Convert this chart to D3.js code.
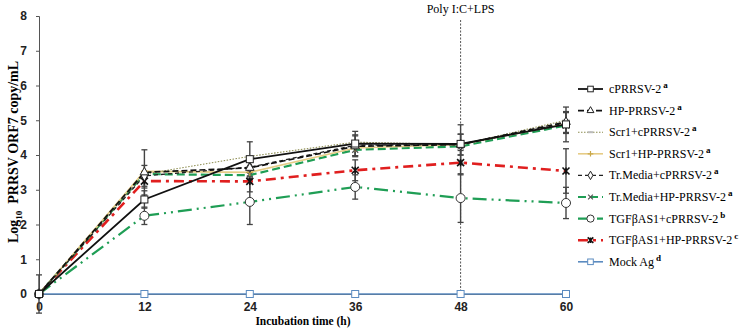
<!DOCTYPE html>
<html>
<head>
<meta charset="utf-8">
<script src="https://cdn.jsdelivr.net/npm/d3@7"></script>
<style>
  body { margin: 0; background: #fff; }
  svg { font-family: "Liberation Serif", "Times New Roman", serif; }
  .axis path, .axis line { stroke: #555; }
  .axis text { font-weight: bold; font-size: 12px; fill: #222; }
</style>
</head>
<body>
<svg id="chart" width="744" height="333"></svg>
<script>
/* PRRSV ORF7 copies over incubation time */
const hours = [0, 12, 24, 36, 48, 60];
const yTicks = [0, 1, 2, 3, 4, 5, 6, 7, 8];
const seriesNames = ["cPRRSV-2", "HP-PRRSV-2", "Scr1+cPRRSV-2", "Scr1+HP-PRRSV-2",
    "Tr.Media+cPRRSV-2", "Tr.Media+HP-PRRSV-2", "TGF\u03B2AS1+cPRRSV-2",
    "TGF\u03B2AS1+HP-PRRSV-2", "Mock Ag"];
const seriesSup = ["a", "a", "a", "a", "a", "a", "b", "c", "d"];

const cPRRSV = [0, 2.72, 3.88, 4.33, 4.32, 4.88];
const hpPRRSV = [0, 3.5, 3.63, 4.25, 4.3, 4.95];
const scr1C = [0, 3.45, 3.96, 4.37, 4.3, 5.0];
const scr1Hp = [0, 3.53, 3.5, 4.2, 4.3, 4.9];
const trMediaC = [0, 3.4, 3.65, 4.28, 4.3, 4.92];
const trMediaHp = [0, 3.45, 3.42, 4.15, 4.25, 4.85];
const tgfC = [0, 2.25, 2.65, 3.08, 2.76, 2.62];
const tgfHp = [0, 3.25, 3.24, 3.56, 3.78, 3.54];
const mockAg = [0, 0, 0, 0, 0, 0];

// standard errors (approx)
const cPRRSVErr = [0.55, 0.25, 0.5, 0.35, 0.55, 0.5];
const hpPRRSVErr = [0, 0.65, 0.3, 0.3, 0.3, 0.3];
const tgfCErr = [0, 0.25, 0.65, 0.35, 0.7, 0.45];
const tgfHpErr = [0, 0.2, 0.3, 0.3, 0.35, 0.64];
const trMediaCErr = [0, 0.3, 0.25, 0.3, 0.3, 0.3];

const allValues = [cPRRSV, hpPRRSV, scr1C, scr1Hp, trMediaC, trMediaHp, tgfC, tgfHp, mockAg];
const allErrors = [cPRRSVErr, hpPRRSVErr, null, null, trMediaCErr, null, tgfCErr, tgfHpErr, null];

// styles for each series, same order as names
const styles = [
    { color: "#111", width: 1.8, dash: null, marker: "square" },
    { color: "#111", width: 1.7, dash: "6,3", marker: "triangle" },
    { color: "#8c8c50", width: 1.1, dash: "1.5,1.5", marker: "dash" },
    { color: "#e6cc86", width: 1.6, dash: null, marker: "plus" },
    { color: "#222", width: 1.3, dash: "4,3", marker: "diamond" },
    { color: "#1f9e55", width: 2.2, dash: "8,4", marker: "x" },
    { color: "#1f9e55", width: 2.2, dash: "14,5,2,5,2,5", marker: "circle" },
    { color: "#e01f1f", width: 2.6, dash: "10,5,3,5", marker: "star" },
    { color: "#5b8bc0", width: 1.6, dash: null, marker: "mock" }
];

const svg = d3.select("svg#chart");
const x = d3.scaleLinear().domain([0, 60]).range([39, 566]);
const y = d3.scaleLinear().domain([0, 8]).range([294, 16]);

// axes
svg.append("g")
    .attr("class", "axis")
    .attr("transform", "translate(39,0)")
    .call(d3.axisLeft(y).tickValues(yTicks).tickSize(3).tickPadding(9).tickFormat(d3.format("d")));
svg.append("g")
    .attr("class", "axis")
    .attr("transform", "translate(0,294)")
    .call(d3.axisBottom(x).tickValues(hours).tickSize(0).tickPadding(8));

// axis titles
svg.append("text")
    .attr("x", 303)
    .attr("y", 325)
    .attr("text-anchor", "middle")
    .style("font-weight", "bold")
    .style("font-size", "11.5px")
    .text("Incubation time (h)");
let yTitle = svg.append("text")
    .attr("transform", "translate(18,152) rotate(-90)")
    .attr("text-anchor", "middle")
    .style("font-weight", "bold")
    .style("font-size", "14px");
yTitle.append("tspan").text("Log");
yTitle.append("tspan").attr("dy", 4).style("font-size", "9px").text("10");
yTitle.append("tspan").attr("dy", -4).text("\u00A0 PRRSV ORF7 copy/mL");

// Poly I:C+LPS marker
svg.append("line")
    .attr("x1", x(48)).attr("x2", x(48))
    .attr("y1", 20).attr("y2", y(0))
    .attr("stroke", "#555")
    .attr("stroke-width", 1)
    .attr("stroke-dasharray", "2,1.5");
svg.append("text")
    .attr("x", x(48))
    .attr("y", 13)
    .attr("text-anchor", "middle")
    .style("font-size", "12px")
    .text("Poly I:C+LPS");

// marker drawing, k = size factor
function drawMarker(g, type, cx, cy, s, k) {
    let h = 3.5 * k;
    if (type === "square" || type === "mock") {
        g.append("rect")
            .attr("x", cx - h).attr("y", cy - h)
            .attr("width", 2 * h).attr("height", 2 * h)
            .attr("fill", "#fff")
            .attr("stroke", type === "mock" ? s.color : "#222")
            .attr("stroke-width", 1);
    } else if (type === "triangle") {
        g.append("path")
            .attr("d", d3.symbol(d3.symbolTriangle, 32 * k * k)())
            .attr("transform", `translate(${cx},${cy})`)
            .attr("fill", "#fff").attr("stroke", "#222");
    } else if (type === "diamond") {
        g.append("path")
            .attr("d", d3.symbol(d3.symbolDiamond, 32 * k * k)())
            .attr("transform", `translate(${cx},${cy})`)
            .attr("fill", "#fff").attr("stroke", "#222");
    } else if (type === "circle") {
        g.append("circle")
            .attr("cx", cx).attr("cy", cy).attr("r", 4.5 * k)
            .attr("fill", "#fff").attr("stroke", "#333");
    } else if (type === "x") {
        g.append("path")
            .attr("d", `M${cx - 3 * k},${cy - 3 * k}L${cx + 3 * k},${cy + 3 * k}M${cx - 3 * k},${cy + 3 * k}L${cx + 3 * k},${cy - 3 * k}`)
            .attr("stroke", "#555").attr("stroke-width", 1.2);
    } else if (type === "star") {
        g.append("path")
            .attr("d", `M${cx - h},${cy - h}L${cx + h},${cy + h}M${cx - h},${cy + h}L${cx + h},${cy - h}M${cx},${cy - h}L${cx},${cy + h}`)
            .attr("stroke", "#111").attr("stroke-width", 1.6);
    } else if (type === "plus") {
        g.append("path")
            .attr("d", `M${cx - h},${cy}L${cx + h},${cy}M${cx},${cy - h}L${cx},${cy + h}`)
            .attr("stroke", "#c9a84a").attr("stroke-width", 1.2);
    } else if (type === "dash") {
        g.append("path")
            .attr("d", `M${cx - h},${cy}L${cx + h},${cy}`)
            .attr("stroke", "#bbb").attr("stroke-width", 2);
    }
}

// error bars
let errArea = svg.append("g");
allErrors.forEach((errs, si) => {
    if (!errs) return;
    errs.forEach((e, i) => {
        if (e === 0) return;
        let v = allValues[si][i];
        let cx = x(hours[i]);
        errArea.append("line")
            .attr("x1", cx).attr("x2", cx)
            .attr("y1", y(v - e)).attr("y2", y(v + e))
            .attr("stroke", "#444").attr("stroke-width", 1.4);
        [v - e, v + e].forEach((end) => {
            errArea.append("line")
                .attr("x1", cx - 3).attr("x2", cx + 3)
                .attr("y1", y(end)).attr("y2", y(end))
                .attr("stroke", "#444").attr("stroke-width", 1.3);
        });
    });
});

// lines (draw bottom-most first)
const drawOrder = [8, 6, 7, 5, 3, 2, 4, 1, 0];
const line = d3.line().x((d, i) => x(hours[i])).y((d) => y(d));
let lineArea = svg.append("g");
drawOrder.forEach((si) => {
    let s = styles[si];
    lineArea.append("path")
        .datum(allValues[si])
        .attr("d", line)
        .attr("fill", "none")
        .attr("stroke", s.color)
        .attr("stroke-width", s.width)
        .attr("stroke-dasharray", s.dash);
});
let markerArea = svg.append("g");
drawOrder.forEach((si) => {
    allValues[si].forEach((v, i) => {
        drawMarker(markerArea, styles[si].marker, x(hours[i]), y(v), styles[si], 1);
    });
});

// legend
let legend = svg.append("g").attr("transform", "translate(578, 89)");
seriesNames.forEach((name, i) => {
    let s = styles[i];
    let ly = i * 21.6;
    legend.append("line")
        .attr("x1", 0).attr("x2", 25)
        .attr("y1", ly).attr("y2", ly)
        .attr("stroke", s.color)
        .attr("stroke-width", s.width)
        .attr("stroke-dasharray", s.dash === "14,5,2,5,2,5" ? "9,4,2,4" : s.dash);
    drawMarker(legend, s.marker, 12.5, ly, s, 0.8);
    let t = legend.append("text")
        .attr("x", 31)
        .attr("y", ly + 4)
        .style("font-size", "12px")
        .text(name);
    t.append("tspan")
        .attr("dy", -5)
        .attr("dx", 2)
        .style("font-size", "9px")
        .style("font-weight", "bold")
        .text(seriesSup[i]);
});
</script>
</body>
</html>
